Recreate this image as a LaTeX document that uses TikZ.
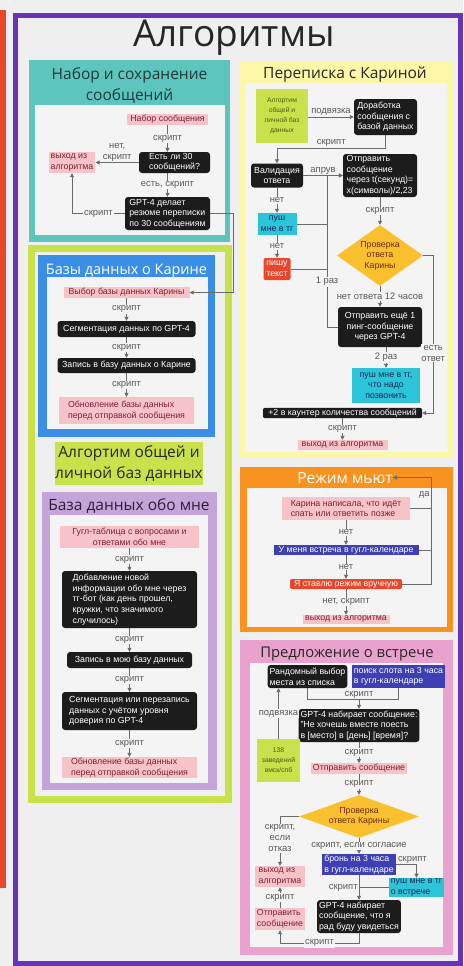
\documentclass[tikz,border=0pt]{standalone}
\usepackage{fontspec}
\setmainfont{Liberation Sans}
\newfontfamily\ttlf{Open Sans}
\usetikzlibrary{shapes.geometric,arrows.meta}
\definecolor{bgc}{HTML}{EFEFEF}
\definecolor{panc}{HTML}{F4F4F4}
\definecolor{redc}{HTML}{E8472B}
\definecolor{prpc}{HTML}{6633B9}
\definecolor{tealc}{HTML}{5DC5BE}
\definecolor{tealt}{HTML}{1E3A3A}
\definecolor{limc}{HTML}{C9E24B}
\definecolor{bluc}{HTML}{3A8EE6}
\definecolor{lavc}{HTML}{C5A4D9}
\definecolor{lavt}{HTML}{2E1F38}
\definecolor{yelc}{HTML}{FDF7A8}
\definecolor{orac}{HTML}{F7931E}
\definecolor{pkfc}{HTML}{E9A1CD}
\definecolor{ttlc}{HTML}{262626}
\definecolor{blkc}{HTML}{1C1C1C}
\definecolor{pnkc}{HTML}{F8C2C9}
\definecolor{pnkt}{HTML}{7B2232}
\definecolor{cync}{HTML}{2BC4D8}
\definecolor{cynt}{HTML}{1A2A55}
\definecolor{bnc}{HTML}{3E3FB2}
\definecolor{diac}{HTML}{FBC02D}
\definecolor{diat}{HTML}{6B2A1A}
\definecolor{stkt}{HTML}{4F5A12}
\definecolor{lnc}{HTML}{6B6B6B}
\definecolor{labc}{HTML}{595959}
\newcommand\fsn{\fontsize{8.8}{10.6}\selectfont}
\newcommand\fsl{\fontsize{9.4}{11}\selectfont}
\newcommand\fsk{\fontsize{6.8}{10}\selectfont}
\newcommand\fti{\ttlf\fontsize{15.5}{21}\selectfont}

\begin{document}
\begin{tikzpicture}[x=1pt,y=-1pt,
  blk/.style={fill=blkc,text=white,rounded corners=3pt,inner xsep=2pt,inner ysep=1pt,font=\fsn,align=left},
  pnk/.style={fill=pnkc,text=pnkt,inner xsep=2pt,inner ysep=1pt,font=\fsn,align=left},
  cyn/.style={fill=cync,text=cynt,inner xsep=2pt,inner ysep=1pt,font=\fsn,align=left},
  blu/.style={fill=bnc,text=white,inner xsep=2pt,inner ysep=1pt,font=\fsn,align=left},
  rdn/.style={fill=redc,text=white,rounded corners=2pt,inner xsep=2pt,inner ysep=1pt,font=\fsn,align=left},
  stk/.style={fill=limc,text=stkt,font=\fsk,align=center,inner sep=1pt},
  dia/.style={shape=diamond,fill=diac,text=diat,font=\fsn,align=center,inner sep=0pt},
  lbl/.style={fill=panc,text=labc,font=\fsl,inner sep=0.8pt},
  lblt/.style={text=labc,font=\fsl,inner sep=1pt},
  ttl/.style={font=\fti,align=center,inner sep=0pt},
  ln/.style={draw=lnc,line width=0.8pt},
  arr/.style={ln,-{Triangle[length=4pt,width=4pt]}}]
\useasboundingbox (0,0) rectangle (463,966);
\fill[bgc] (0,0) rectangle (463,966);
\fill[redc] (0,10) rectangle (6,888);
\draw[prpc,line width=5] (15.5,15.5) rectangle (460,963);
\node[anchor=base,inner sep=0pt,text=ttlc,font=\ttlf\fontsize{37}{40}\selectfont] (talg0) at (234,47) {Алгоритмы};

\fill[tealc] (29,60) rectangle (230,242);
\fill[panc] (35,105) rectangle (225,235);
\node[ttl,text=tealt] (tnab) at (129.5,85.5) {Набор и сохранение\\сообщений};
\node[pnk,minimum width=81,minimum height=11] (nab) at (167.5,119.5) {Набор сообщения};
\node[blk,minimum width=71,minimum height=21] (est) at (174.5,162.5) {Есть ли 30\\сообщений?};
\node[pnk,minimum width=46,minimum height=21] (vyh1) at (72,162.5) {выход из\\алгоритма};
\node[blk,minimum width=85,minimum height=33] (gpt1) at (167.5,213.5) {GPT-4 делает\\резюме переписки\\по 30 сообщениям};
\draw[arr] (nab) -- node[lbl]{скрипт} (nab |- est.north);
\draw[arr] (est) -- node[lblt,above,align=center]{нет,\\скрипт} (vyh1);
\draw[arr] (est.south -| gpt1) -- node[lbl]{есть, скрипт} (gpt1);
\draw[arr] (gpt1) -- node[lbl]{скрипт} (gpt1 -| vyh1) -- (vyh1);

\draw[limc,line width=7] (31.5,248.5) rectangle (228.5,799);
\fill[bluc] (38,255) rectangle (215,437);
\fill[panc] (47,277) rectangle (208,429);
\node[ttl,text=white,anchor=base,font=\ttlf\fontsize{14.5}{20}\selectfont] (tbaz) at (126.5,274) {Базы данных о Карине};
\node[pnk,minimum width=126,minimum height=10] (vyb) at (126.5,292.5) {Выбор базы данных Карины};
\node[blk,minimum width=138,minimum height=16] (segk) at (126.5,329) {Сегментация данных по GPT-4};
\node[blk,minimum width=138,minimum height=15] (zapk) at (126.5,365.5) {Запись в базу данных о Карине};
\node[pnk,minimum width=135,minimum height=27] (obnk) at (126.5,410.5) {Обновление базы данных\\перед отправкой сообщения};
\draw[arr] (vyb) -- node[lbl]{скрипт} (segk);
\draw[arr] (segk) -- node[lbl]{скрипт} (zapk);
\draw[arr] (zapk) -- node[lbl]{скрипт} (obnk);
\draw[arr] (gpt1.east) -- ++(23,0) |- (vyb);

\node[ttl,fill=limc,text=ttlc,minimum width=148,minimum height=43] (tobs) at (129,463.5) {Алгортим общей и\\личной баз данных};
\fill[lavc] (42,492) rectangle (217,790);
\fill[panc] (50,515) rectangle (208,783);
\node[ttl,text=lavt,anchor=base] (tmne) at (129,510) {База данных обо мне};
\node[pnk,align=center,minimum width=139,minimum height=22] (gug) at (129.5,537) {Гугл-таблица с вопросами и\\ответами обо мне};
\node[blk,minimum width=135,minimum height=57] (dob) at (129.5,599.5) {Добавление новой\\информации обо мне через\\тг-бот (как день прошел,\\кружки, что значимого\\случилось)};
\node[blk,minimum width=125,minimum height=16] (zapm) at (129.5,660) {Запись в мою базу данных};
\node[blk,minimum width=135,minimum height=38] (segm) at (129.5,711) {Сегментация или перезапись\\данных с учётом уровня\\доверия по GPT-4};
\node[pnk,minimum width=135,minimum height=21] (obnm) at (129.5,767.5) {Обновление базы данных\\перед отправкой сообщения};
\draw[arr] (gug) -- node[lbl]{скрипт} (dob);
\draw[arr] (dob) -- node[lbl]{скрипт} (zapm);
\draw[arr] (zapm) -- node[lbl]{скрипт} (segm);
\draw[arr] (segm) -- node[lbl]{скрипт} (obnm);

\fill[yelc] (240,62) rectangle (453,457);
\fill[panc] (245,83) rectangle (447,452);
\node[ttl,text=ttlc,anchor=base] (tper) at (345,78) {Переписка с Кариной};
\node[stk,minimum width=52,minimum height=54] (stk1) at (282,116) {Алгортим\\общей и\\личной баз\\данных};
\node[blk,minimum width=63,minimum height=36] (dor) at (385.5,117) {Доработка\\сообщения с\\базой данных};
\node[blk,align=center,minimum width=52,minimum height=24] (val) at (277,175.5) {Валидация\\ответа};
\node[blk,minimum width=74,minimum height=43] (otp) at (380,175.5) {Отправить\\сообщение\\через t(секунд)=\\x(символы)/2,23};
\node[cyn,align=center,minimum width=39,minimum height=22] (push1) at (277,224) {пуш\\мне в тг};
\node[rdn,minimum width=27,minimum height=22] (pish) at (277,269) {пишу\\текст};
\node[dia,aspect=1.4,minimum width=86,minimum height=61] (prov1) at (380,255.5) {Проверка\\ответа\\Карины};
\node[blk,align=center,minimum width=84,minimum height=40] (otp2) at (380,327) {Отправить ещё 1\\пинг-сообщение\\через GPT-4};
\node[cyn,align=center,minimum width=68,minimum height=35] (push2) at (386,385.5) {пуш мне в тг,\\что надо\\позвонить};
\node[blk,rounded corners=2pt,minimum width=159,minimum height=10] (plus) at (342.5,413) {+2 в каунтер количества сообщений};
\node[pnk,minimum width=90,minimum height=10] (vyh2) at (342.5,445) {выход из алгоритма};
\coordinate (bus) at (327,175.5);
\draw[arr] (stk1.east |- dor) -- node[lblt,above]{подвязка} (dor);
\draw[arr] (dor.south) -- ++(0,13) -| node[lblt,above,pos=0.25]{скрипт} (val.north);
\draw[arr] (val) -- node[lblt,above]{апрув} (otp);
\draw[arr] (val) -- node[lbl]{нет} (push1);
\draw[arr] (push1) -- node[lbl]{нет} (pish);
\draw[ln] (push1) -- (push1 -| bus);
\draw[ln] (pish) -- (pish -| bus);
\draw[arr] (otp2) -| node[lbl,pos=0.65]{1 раз} (bus) -- (otp);
\draw[arr] (otp) -- node[lbl]{скрипт} (prov1);
\draw[arr] (prov1) -- node[lbl]{нет ответа 12 часов} (otp2);
\draw[arr] (otp2.south -| push2) -- node[lbl]{2 раз} (push2);
\draw[arr] (prov1.east) -- ++(10,0) |- node[lbl,align=center,pos=0.31]{есть\\ответ} (plus);
\draw[arr] (plus) -- node[lbl]{скрипт} (vyh2);

\fill[orac] (240,467) rectangle (453,632);
\fill[panc] (247,488) rectangle (447,627);
\node[ttl,text=white,anchor=base] (tmut) at (345,483) {Режим мьют};
\node[pnk,minimum width=128,minimum height=23] (kar) at (346,508.5) {Карина написала, что идёт\\спать или ответить позже};
\node[blu,minimum width=145,minimum height=10] (vstr) at (346,550) {У меня встреча в гугл-календаре};
\node[rdn,minimum width=112,minimum height=10] (ruch) at (346,584) {Я ставлю режим вручную};
\node[pnk,minimum width=87,minimum height=9] (vyh3) at (346,619.5) {выход из алгоритма};
\coordinate (mr) at (431,584);
\draw[arr] (kar) -- node[lbl]{нет} (vstr);
\draw[arr] (vstr) -- node[lbl]{нет} (ruch);
\draw[arr] (ruch) -- node[lbl]{нет, скрипт} (vyh3);
\draw[ln] (kar) -- (kar -| mr);
\draw[ln] (vstr) -- (vstr -| mr);
\draw[arr] (ruch) -- (mr) |- node[lblt,left,pos=0.42]{да} (tmut);

\fill[pkfc] (240,640) rectangle (453,955);
\fill[panc] (250,663) rectangle (443,947);
\node[ttl,text=ttlc,anchor=base,font=\ttlf\fontsize{14.8}{20}\selectfont] (tvst) at (347,657) {Предложение о встрече};
\node[blk,minimum width=77,minimum height=23] (rand) at (307.5,676.5) {Рандомный выбор\\места из списка};
\node[blu,minimum width=89,minimum height=23] (slot) at (398.5,676.5) {поиск слота на 3 часа\\в гугл-календаре};
\node[blk,minimum width=116,minimum height=33] (gpt2) at (359,725.5) {GPT-4 набирает сообщение:\\"Не хочешь вместе поесть\\в [место] в [день] [время]?};
\node[stk,minimum width=43,minimum height=43] (stk2) at (278.5,760.5) {138\\заведений\\вмск/спб};
\node[pnk,minimum width=95,minimum height=9] (otps) at (359,768.5) {Отправить сообщение};
\node[dia,aspect=2.8,minimum width=120,minimum height=43] (prov2) at (359,816.5) {Проверка\\ответа Карины};
\node[blu,minimum width=69,minimum height=19] (bron) at (359,864.5) {бронь на 3 часа\\в гугл-календаре};
\node[cyn,minimum width=51,minimum height=19] (push3) at (416.5,887.5) {пуш мне в тг\\о встрече};
\node[blk,minimum width=82,minimum height=33] (gpt3) at (359,916.5) {GPT-4 набирает\\сообщение, что я\\рад буду увидеться};
\node[pnk,minimum width=50,minimum height=21] (vyh4) at (280,876.5) {выход из\\алгоритма};
\node[pnk,minimum width=50,minimum height=22] (otps2) at (280,919) {Отправить\\сообщение};
\coordinate (jp) at (359,700);
\draw[ln] (rand.south) -- ++(0,11.5) -| (slot.south);
\draw[arr] (jp) node[lblt,above]{скрипт} -- (gpt2);
\draw[arr] (stk2) -- node[lbl]{подвязка} (stk2 |- rand.south);
\draw[arr] (gpt2) -- node[lbl]{скрипт} (otps);
\draw[arr] (otps) -- node[lbl]{скрипт} (prov2);
\draw[arr] (prov2.west) -| node[lbl,align=center,pos=0.72]{скрипт,\\если\\отказ} (vyh4);
\draw[arr] (prov2) -- node[lbl]{скрипт, если согласие} (bron);
\draw[arr] (bron.east) -| node[lblt,above,pos=0.4]{скрипт} (push3);
\draw[ln] (push3) -- (push3 -| gpt3);
\draw[arr] (bron) -- node[lblt,left]{скрипт} (gpt3);
\draw[arr] (otps2) -- node[lbl]{скрипт} (vyh4);
\draw[arr] (gpt3.south) -- ++(0,10) -| node[lbl,pos=0.25]{скрипт} (otps2.south);
\end{tikzpicture}
\end{document}
